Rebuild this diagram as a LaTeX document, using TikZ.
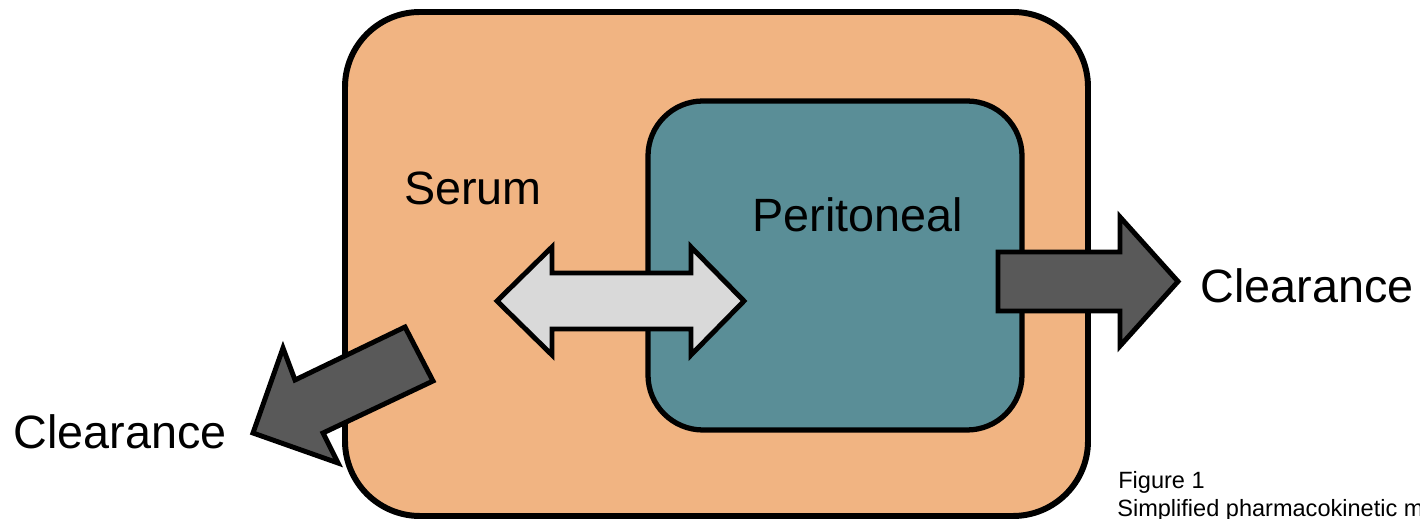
\documentclass[tikz,border=0pt]{standalone}
\usepackage{fontspec}
\setmainfont{Liberation Sans}
\definecolor{serumfill}{HTML}{F1B482}
\definecolor{perifill}{HTML}{5A8E97}
\definecolor{darkarrow}{HTML}{595959}
\definecolor{lightarrow}{HTML}{D9D9D9}
\begin{document}
\begin{tikzpicture}[x=0.02cm,y=-0.02cm,
  outerbox/.style={draw=black,line width=3.4pt,fill=serumfill,rounded corners=1.5cm},
  innerbox/.style={draw=black,line width=3pt,fill=perifill,rounded corners=1.1cm},
  arrowshape/.style={draw=black,line width=2.8pt,line join=miter},
  bigtext/.style={inner sep=0pt,font=\fontsize{26.6}{32}\selectfont},
  smalltext/.style={inner sep=0pt,anchor=base west,font=\fontsize{13.4}{16}\selectfont}]
\useasboundingbox (0,0) rectangle (1420,519);
\clip (0,0) rectangle (1420,519);
% outer serum box
\draw[outerbox] (345,12) rectangle (1088,516);
% left clearance arrow
\draw[arrowshape,fill=darkarrow] (405,327) -- (295,380) -- (283,348) -- (253,433) -- (338,463) -- (323,433) -- (433,381) -- cycle;
% inner peritoneal box
\draw[innerbox] (648,101) rectangle (1022,430);
% double arrow
\draw[arrowshape,fill=lightarrow] (497,301) -- (552,247) -- (552,273) -- (691,273) -- (691,247) -- (744,301) -- (691,355) -- (691,329) -- (552,329) -- (552,355) -- cycle;
% right clearance arrow
\draw[arrowshape,fill=darkarrow] (998,252) -- (1120,252) -- (1120,217) -- (1178,281.5) -- (1120,346) -- (1120,311) -- (998,311) -- cycle;
% labels
\node[bigtext] (serum) at (473,188) {Serum};
\node[bigtext] (peri) at (858,215) {Peritoneal};
\node[bigtext] (clr) at (1307,286) {Clearance};
\node[bigtext] (cll) at (120,432) {Clearance};
\node[smalltext] (fig) at (1118,489) {Figure 1};
\node[smalltext] (cap) at (1117,517) {Simplified pharmacokinetic model};
\end{tikzpicture}
\end{document}
